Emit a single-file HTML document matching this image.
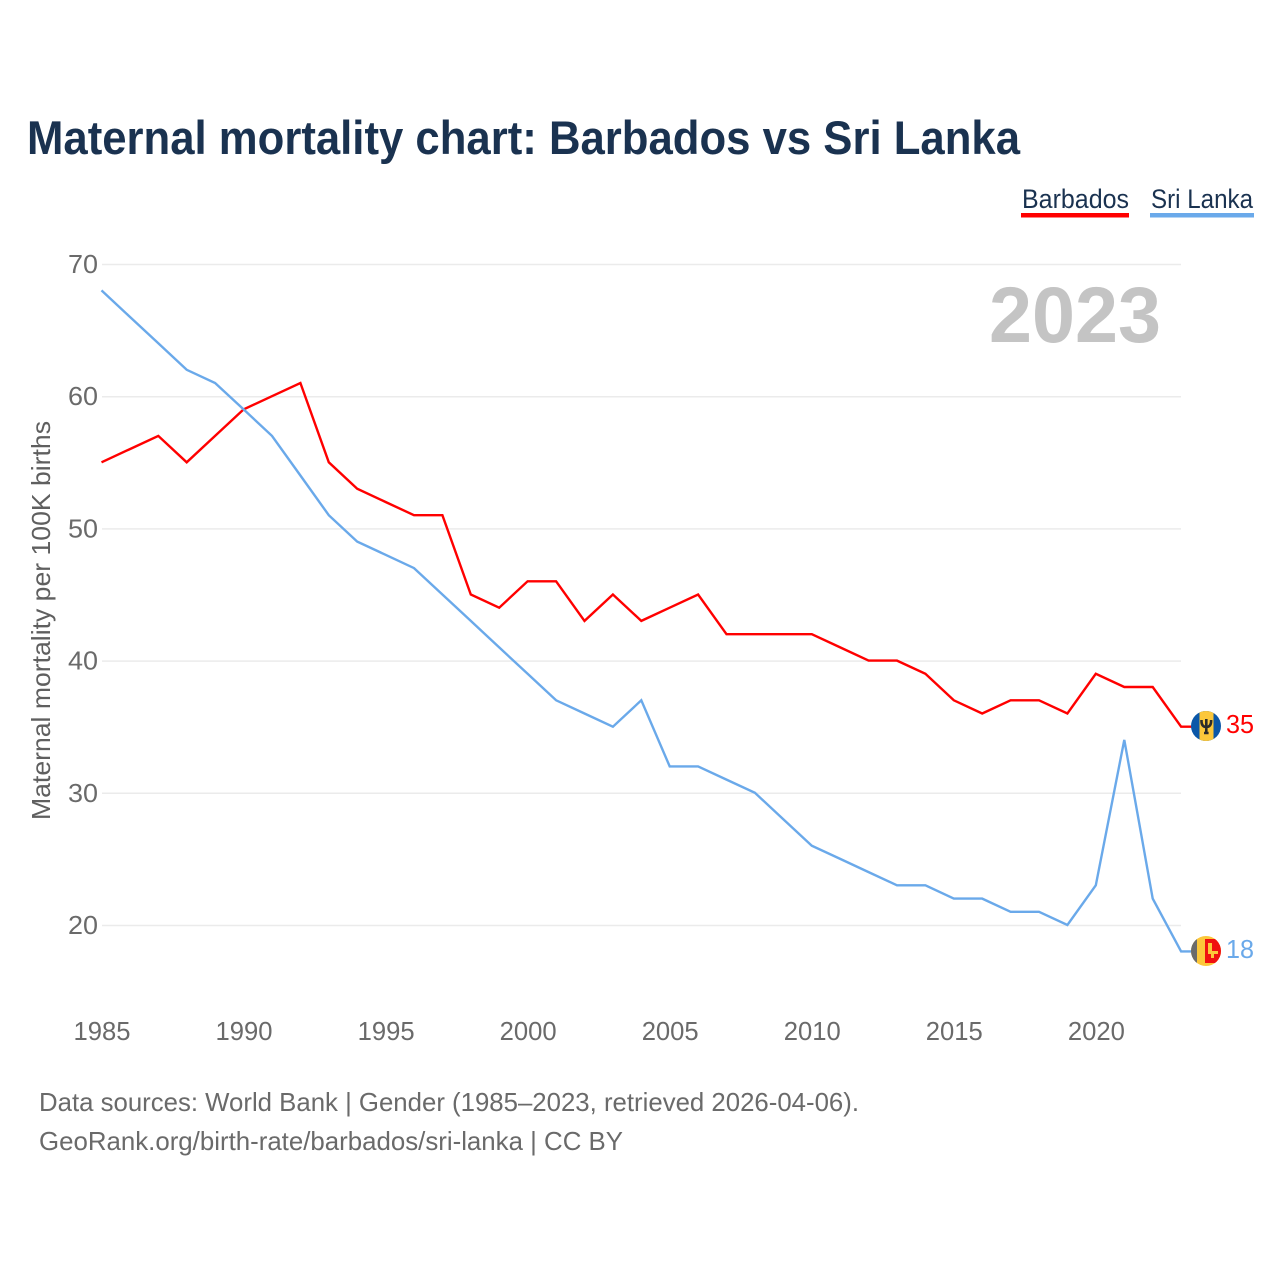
<!DOCTYPE html>
<html lang="en">
<head>
<meta charset="utf-8">
<title>Maternal mortality chart: Barbados vs Sri Lanka</title>
<style>
html,body{margin:0;padding:0;background:#fff;}
svg{display:block;font-family:"Liberation Sans",sans-serif;}
</style>
</head>
<body>
<svg id="chart" width="1280" height="1280" viewBox="0 0 1280 1280" xmlns="http://www.w3.org/2000/svg">
  <rect width="1280" height="1280" fill="#ffffff"/>
  <text x="27" y="154" font-size="47" font-weight="700" fill="#1a3250" textLength="993" lengthAdjust="spacingAndGlyphs">Maternal mortality chart: Barbados vs Sri Lanka</text>
  <g>
    <g>
      <text x="1022" y="208" font-size="26.500" fill="#1a3250" textLength="107" lengthAdjust="spacingAndGlyphs">Barbados</text>
      <rect x="1021" y="213" width="108" height="4.500" fill="#ff0000"/>
    </g>
    <g>
      <text x="1151" y="208" font-size="26.500" fill="#1a3250" textLength="102" lengthAdjust="spacingAndGlyphs">Sri Lanka</text>
      <rect x="1150" y="213" width="104" height="4.500" fill="#6aa9ea"/>
    </g>
  </g>
  <g id="grid"></g>
  <g id="yticks"></g>
  <g id="xticks"></g>
  <text transform="translate(50,820) rotate(-90)" font-size="26" fill="#5f5f5f" textLength="399" lengthAdjust="spacingAndGlyphs">Maternal mortality per 100K births</text>
  <text x="1161" y="342" text-anchor="end" font-size="79" font-weight="700" fill="#c4c4c4" textLength="172" lengthAdjust="spacingAndGlyphs">2023</text>
  <g id="series"></g>

  <defs>
    <clipPath id="flag-clip-bb"><circle cx="1206" cy="726" r="15"/></clipPath>
    <clipPath id="flag-clip-lk"><circle cx="1206" cy="951" r="15"/></clipPath>
  </defs>
  <g id="flag-bb" clip-path="url(#flag-clip-bb)">
    <rect x="1191" y="711" width="30" height="30" fill="#0b57a8"/>
    <rect x="1199.500" y="711" width="14" height="30" fill="#fcc73a"/>
    <path d="M1206.300 719v14M1201.500 720q-.3 7 4.800 7t4.800-7M1204 733h4.600" fill="none" stroke="#2b2b2b" stroke-width="2.600"/>
  </g>
  <g id="flag-lk" clip-path="url(#flag-clip-lk)">
    <rect x="1191" y="936" width="30" height="30" fill="#fcc73a"/>
    <rect x="1191" y="936" width="6" height="30" fill="#6b6b6b"/>
    <rect x="1205" y="939" width="16" height="24" fill="#f01010"/>
    <path d="M1208 943h4v8h6v3h-4v4h-3v-4h-3z" fill="#fcc73a"/>
  </g>
  <text id="end-bb" x="1226" y="733" font-size="26" fill="#ff0000" textLength="28" lengthAdjust="spacingAndGlyphs"></text>
  <text id="end-lk" x="1226" y="958" font-size="26" fill="#6aa9ea" textLength="28" lengthAdjust="spacingAndGlyphs"></text>

  <text x="39" y="1111" font-size="26" fill="#6a6a6a" textLength="820" lengthAdjust="spacingAndGlyphs">Data sources: World Bank | Gender (1985–2023, retrieved 2026-04-06).</text>
  <text x="39" y="1150" font-size="26" fill="#6a6a6a" textLength="584" lengthAdjust="spacingAndGlyphs">GeoRank.org/birth-rate/barbados/sri-lanka | CC BY</text>
</svg>
<script>
const years = [1985,1986,1987,1988,1989,1990,1991,1992,1993,1994,1995,1996,1997,1998,1999,2000,2001,2002,2003,2004,2005,2006,2007,2008,2009,2010,2011,2012,2013,2014,2015,2016,2017,2018,2019,2020,2021,2022,2023];
const barbados = [55,56,57,55,57,59,60,61,55,53,52,51,51,45,44,46,46,43,45,43,44,45,42,42,42,42,41,40,40,39,37,36,37,37,36,39,38,38,35];
const sriLanka = [68,66,64,62,61,59,57,54,51,49,48,47,45,43,41,39,37,36,35,37,32,32,31,30,28,26,25,24,23,23,22,22,21,21,20,23,34,22,18];
const yTickLabels = [20,30,40,50,60,70];
const xTickLabels = [1985,1990,1995,2000,2005,2010,2015,2020];

const NS = 'http://www.w3.org/2000/svg';
const xScale = function (year) { return 101.5 + (year - 1985) * 28.41; };
const yScale = function (value) { return 925 - (value - 20) * 13.22; };
const gridGroup = document.getElementById('grid');
const yGroup = document.getElementById('yticks');
const xGroup = document.getElementById('xticks');
const seriesGroup = document.getElementById('series');

yTickLabels.forEach(function (v) {
  const line = document.createElementNS(NS, 'line');
  
  
  line.setAttribute('x1', 102);
  line.setAttribute('x2', 1181);
  line.setAttribute('y1', yScale(v) + 0.5);
  line.setAttribute('y2', yScale(v) + 0.5);
  line.setAttribute('stroke', '#ebebeb');
  line.setAttribute('stroke-width', '1.500');
  gridGroup.appendChild(line);

  const label = document.createElementNS(NS, 'text');
  
  
  label.setAttribute('x', 68);
  label.setAttribute('y', yScale(v) + 9);
  label.setAttribute('font-size', '26');
  label.setAttribute('fill', '#6a6a6a');
  label.setAttribute('textLength', '30');
  label.setAttribute('lengthAdjust', 'spacingAndGlyphs');
  label.textContent = v;
  yGroup.appendChild(label);
});

xTickLabels.forEach(function (y) {
  const label = document.createElementNS(NS, 'text');
  
  
  label.setAttribute('x', xScale(y) + 0.5);
  label.setAttribute('y', 1040);
  label.setAttribute('text-anchor', 'middle');
  label.setAttribute('font-size', '26');
  label.setAttribute('fill', '#6a6a6a');
  label.setAttribute('textLength', '57');
  label.setAttribute('lengthAdjust', 'spacingAndGlyphs');
  label.textContent = y;
  xGroup.appendChild(label);
});

function linePoints(values) {
  const pts = values.map(function (v, i) {
    return xScale(years[i]).toFixed(1) + ',' + yScale(v).toFixed(1);
  });
  const last = values[values.length - 1];
  pts.push('1192,' + yScale(last).toFixed(1));
  return pts.join(' ');
}

const barbadosLine = document.createElementNS(NS, 'polyline');


barbadosLine.setAttribute('points', linePoints(barbados));
barbadosLine.setAttribute('fill', 'none');
barbadosLine.setAttribute('stroke', '#ff0000');
barbadosLine.setAttribute('stroke-width', '2.400');
seriesGroup.appendChild(barbadosLine);

const sriLankaLine = document.createElementNS(NS, 'polyline');


sriLankaLine.setAttribute('points', linePoints(sriLanka));
sriLankaLine.setAttribute('fill', 'none');
sriLankaLine.setAttribute('stroke', '#6aa9ea');
sriLankaLine.setAttribute('stroke-width', '2.400');
seriesGroup.appendChild(sriLankaLine);

document.getElementById('end-bb').textContent = barbados[barbados.length - 1];
document.getElementById('end-lk').textContent = sriLanka[sriLanka.length - 1];
</script>
</body>
</html>
